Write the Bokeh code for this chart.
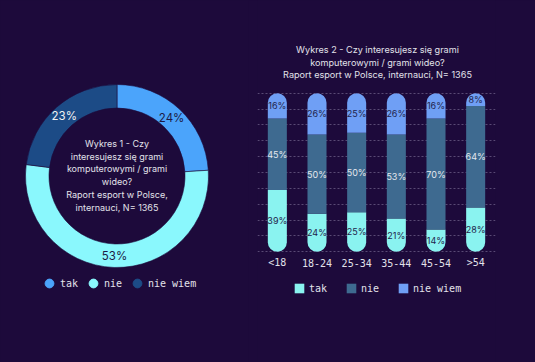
import numpy as np
from bokeh.plotting import figure
from bokeh.layouts import row
from bokeh.models import (ColumnDataSource, Range1d, FactorRange, Label, Legend,
                          LegendItem, Grid, FixedTicker)
from bokeh.core.properties import value
from bokeh.embed import file_html
from bokeh.resources import INLINE

# ---------------- data ----------------
donut_labels = ["tak", "nie", "nie wiem"]
donut_values = [24, 53, 23]

age_groups = ["<18", "18-24", "25-34", "35-44", "45-54", ">54"]
tak = [39, 24, 25, 21, 14, 28]
nie = [45, 50, 50, 53, 70, 64]
nie_wiem = [16, 26, 25, 26, 16, 8]
bar_labels = ["tak", "nie", "nie wiem"]
grid_ticks = list(range(0, 101, 10))

title1_lines = ["Wykres 1 - Czy", "interesujesz się grami", "komputerowymi / grami",
                "wideo?", "Raport esport w Polsce,", "internauci, N= 1365"]
title2_lines = ["Wykres 2 - Czy interesujesz się grami", "komputerowymi / grami wideo?",
                "Raport esport w Polsce, internauci, N= 1365"]

# ---------------- styles / layout (pixels) ----------------
BG = "#1d0a3b"
donut_colors = ["#4ba4fb", "#8af8fd", "#1c4b86"]
donut_text_colors = ["#1d1a45", "#1d1a45", "#f2f2f2"]
bar_colors = ["#8af3f0", "#3e6a90", "#6f9ff5"]
DARK_TXT = "#22244c"
LIGHT_TXT = "#e4e8ee"
TXT = "#e2e2ea"
SANS = "Inter"
MONO = "DejaVu Sans Mono"

H = 362
W1 = 248
W2 = 287

# ---------------- left: donut ----------------
p1 = figure(width=W1, height=H, x_range=Range1d(0, W1), y_range=Range1d(0, H),
            output_backend="svg", toolbar_location=None, min_border=0,
            x_axis_location=None, y_axis_location=None)
p1.xgrid.visible = False
p1.ygrid.visible = False
p1.background_fill_color = BG
p1.border_fill_color = BG
p1.outline_line_color = None

cx, cy = 116.5, H - 175.5
r_in, r_out = 68.0, 91.5
vals = np.array(donut_values, dtype=float)
frac = vals / vals.sum()
cum_end = np.cumsum(frac)
cum_start = cum_end - frac
mid = (cum_start + cum_end) / 2
r_lab = (r_in + r_out) / 2
src1 = ColumnDataSource(dict(
    start=np.pi / 2 - 2 * np.pi * cum_start,
    end=np.pi / 2 - 2 * np.pi * cum_end,
    color=donut_colors,
    lx=cx + r_lab * np.cos(np.pi / 2 - 2 * np.pi * mid),
    ly=cy + r_lab * np.sin(np.pi / 2 - 2 * np.pi * mid),
    txt=[f"{v}%" for v in donut_values],
    tcol=donut_text_colors,
))
p1.annular_wedge(x=cx, y=cy, inner_radius=r_in, outer_radius=r_out,
                 start_angle="start", end_angle="end", direction="clock",
                 fill_color="color", line_color=BG, line_width=0.6, source=src1)
p1.text(x="lx", y="ly", text="txt", text_color="tcol", text_align="center",
        text_baseline="middle", text_font=value(SANS), text_font_size="11.5px",
        source=src1)

page_y1 = [142.7, 155.5, 168.3, 181.1, 193.9, 206.7]
for line, py in zip(title1_lines, page_y1):
    p1.add_layout(Label(x=cx, y=H - py, text=line, text_align="center",
                        text_baseline="middle", text_font=SANS, text_font_size="9px",
                        text_color=TXT))

# legend proxies (NaN points: nothing drawn in the plot, only in the legend)
items1 = []
for lab, col in zip(donut_labels, donut_colors):
    r = p1.scatter(x=[np.nan], y=[np.nan], marker="circle", fill_color=col, line_color=col)
    items1.append(LegendItem(label=lab, renderers=[r]))
leg1 = Legend(items=items1, orientation="horizontal", location=(38, H - 294.3),
              glyph_width=22, glyph_height=22, label_standoff=0, spacing=2,
              label_width=20, label_height=22, padding=0, margin=0,
              background_fill_alpha=0, border_line_color=None,
              label_text_font=MONO, label_text_font_size="10px",
              label_text_color=TXT)
p1.add_layout(leg1)

# ---------------- right: stacked pill bars ----------------
FR_L, FR_R = 257, 495          # page x of the plotting area
Y0_PX, Y100_PX = 251.3, 92.7   # page y of 0 % and 100 %
k = (Y0_PX - Y100_PX) / 100.0  # px per percent
y_start = -(H - Y0_PX) / k
y_end = 100 + Y100_PX / k

p2 = figure(width=W2, height=H, x_range=FactorRange(factors=age_groups),
            y_range=Range1d(y_start, y_end), output_backend="svg",
            toolbar_location=None, x_axis_location=None, y_axis_location=None,
            min_border_left=FR_L - W1, min_border_right=W1 + W2 - FR_R,
            min_border_top=0, min_border_bottom=0)
p2.background_fill_color = BG
p2.border_fill_color = BG
p2.outline_line_color = None
p2.xgrid.visible = False
p2.ygrid.visible = False
p2.add_layout(Grid(dimension=1, ticker=FixedTicker(ticks=grid_ticks),
                   grid_line_color="#8a80a6", grid_line_alpha=0.55,
                   grid_line_dash="2 2", grid_line_width=1))

t = np.array(tak, dtype=float)
n = np.array(nie, dtype=float)
w = np.array(nie_wiem, dtype=float)
src2 = ColumnDataSource(dict(
    x=age_groups,
    tak_top=t, nie_top=t + n, nw_top=t + n + w,
    tak_mid=t / 2, nie_mid=t + n / 2, nw_mid=t + n + w / 2,
    tak_lab=[f"{v}%" for v in tak],
    nie_lab=[f"{v}%" for v in nie],
    nw_lab=[f"{v}%" for v in nie_wiem],
    cat_y=[-(262.0 - Y0_PX) / k] * len(age_groups),
))
BW = 0.48
RAD = 10
p2.vbar(x="x", bottom=0, top="tak_top", width=BW, fill_color=bar_colors[0],
        line_color=None, border_radius=(0, 0, RAD, RAD), source=src2)
p2.vbar(x="x", bottom="tak_top", top="nie_top", width=BW, fill_color=bar_colors[1],
        line_color=None, source=src2)
p2.vbar(x="x", bottom="nie_top", top="nw_top", width=BW, fill_color=bar_colors[2],
        line_color=None, border_radius=(RAD, RAD, 0, 0), source=src2)

for ycol, tcol, col in [("tak_mid", "tak_lab", DARK_TXT), ("nie_mid", "nie_lab", LIGHT_TXT),
                        ("nw_mid", "nw_lab", DARK_TXT)]:
    p2.text(x="x", y=ycol, text=tcol, text_align="center", text_baseline="middle",
            text_font=value(SANS), text_font_size="9px", text_color=col, source=src2)

# category labels (x axis)
p2.text(x="x", y="cat_y", text="x", text_align="center", text_baseline="middle",
        text_font=value(MONO), text_font_size="10px", text_color=TXT, source=src2)

items2 = []
for lab, col in zip(bar_labels, bar_colors):
    r = p2.vbar(x=[age_groups[0]], bottom=[0], top=[0], width=0.5, fill_color=col,
                line_color=None)
    items2.append(LegendItem(label=lab, renderers=[r]))
leg2 = Legend(items=items2, orientation="horizontal", location=(293 - FR_L, H - 294),
              glyph_width=12, glyph_height=12, label_standoff=4, spacing=16,
              label_width=20, label_height=12, padding=0, margin=0,
              background_fill_alpha=0, border_line_color=None,
              label_text_font=MONO, label_text_font_size="10px",
              label_text_color=TXT)
p2.add_layout(leg2)

page_y2 = [49.0, 61.7, 74.4]
for line, py in zip(title2_lines, page_y2):
    p2.add_layout(Label(x=377 - FR_L, y=H - py, x_units="screen", y_units="screen",
                        text=line, text_align="center", text_baseline="middle",
                        text_font=SANS, text_font_size="9.1px", text_color=TXT))

layout = row(p1, p2, spacing=0)
html = file_html(layout, INLINE, title="Wykresy")
html = html.replace("</head>", "<style>html,body{background:%s !important;margin:0 !important;overflow:hidden;}</style></head>" % BG, 1)
open("out.html", "w").write(html)
